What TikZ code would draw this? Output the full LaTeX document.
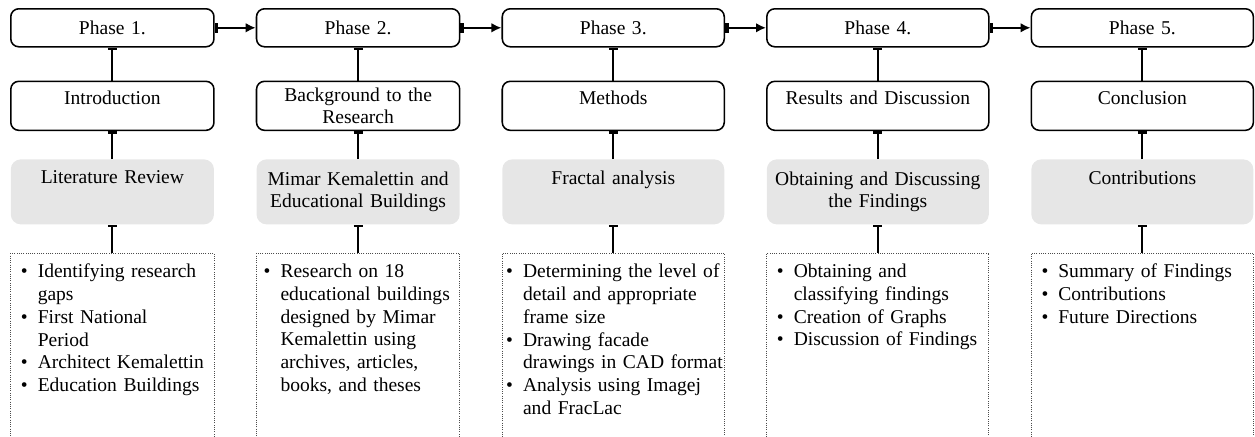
\documentclass[tikz,border=0pt]{standalone}
\usepackage{fontspec}
\setmainfont{Liberation Serif}
\usepackage{tikz}
\usetikzlibrary{positioning, arrows.meta, shapes}
\definecolor{boxgray}{HTML}{E6E6E6}
\newcommand{\boxfont}{\fontsize{13.9}{16.2}\selectfont}
\newenvironment{blist}[1]{\begin{list}{\textbullet}{\setlength{\leftmargin}{#1}%
\setlength{\rightmargin}{-0.4cm}\setlength{\labelsep}{0.25cm}\setlength{\labelwidth}{0.3cm}%
\setlength{\itemsep}{0pt}\setlength{\parsep}{0pt}\setlength{\topsep}{0pt}\setlength{\partopsep}{0pt}}}%
{\end{list}}
\newcommand{\itembox}[2][0.575cm]{\vbox to 4.6cm{\vskip 0.26cm\begin{blist}{#1}#2\end{blist}\vfill}}
\tikzstyle{pblock} = [rectangle, draw, line width=1.1pt, rounded corners=0.2cm,
text width=4.78cm, align=center, minimum width=5.08cm, minimum height=0.95cm, inner xsep=0.15cm]
\tikzstyle{lpblock} = [rectangle, draw, line width=1.1pt, rounded corners=0.2cm,
text width=5.25cm, align=center, minimum width=5.55cm, minimum height=0.95cm, inner xsep=0.15cm]
\tikzstyle{hblock} = [rectangle, draw, line width=1.1pt, rounded corners=0.2cm,
text width=4.78cm, align=center, minimum width=5.08cm, minimum height=1.225cm, inner xsep=0.15cm]
\tikzstyle{lhblock} = [rectangle, draw, line width=1.1pt, rounded corners=0.2cm,
text width=5.25cm, align=center, minimum width=5.55cm, minimum height=1.225cm, inner xsep=0.15cm]
\tikzstyle{gblock} = [rectangle, fill=boxgray, rounded corners=0.25cm,
text width=4.78cm, align=center, minimum width=5.08cm, minimum height=1.625cm, inner xsep=0.15cm]
\tikzstyle{lgblock} = [rectangle, fill=boxgray, rounded corners=0.25cm,
text width=5.25cm, align=center, minimum width=5.55cm, minimum height=1.625cm, inner xsep=0.15cm]
\tikzstyle{dblock} = [rectangle, draw=black!70, densely dotted, line width=0.6pt,
text width=4.88cm, minimum width=5.08cm, minimum height=4.625cm, inner xsep=0.1cm, inner ysep=0pt]
\tikzstyle{ldblock} = [rectangle, draw=black!70, densely dotted, line width=0.6pt,
text width=5.35cm, minimum width=5.55cm, minimum height=4.625cm, inner xsep=0.1cm, inner ysep=0pt]
\tikzstyle{hone} = [text depth=0.39cm]
\tikzstyle{gone} = [text depth=0.73cm]
\tikzstyle{harrow} = [line width=1.4pt, {Bar[width=0.26cm,line width=2.6pt]}-{Latex[length=0.25cm,width=0.24cm]}]
\tikzstyle{varrow} = [line width=1.5pt, -{Bar[width=0.22cm,line width=2pt]}]

\begin{document}
\begin{tikzpicture}
                \tikzstyle{every node}=[font=\boxfont]
                \useasboundingbox (0,0) rectangle (31.375,-10.9);
                \node (p1) [pblock, anchor=north west] at (0.25,-0.2) {Phase 1.};
                \node (p2) [pblock, right=1.025cm of p1] {Phase 2.};
                \node (p3) [lpblock, right=1.025cm of p2] {Phase 3.};
                \node (p4) [lpblock, right=1.025cm of p3] {Phase 4.};
                \node (p5) [lpblock, right=1.025cm of p4] {Phase 5.};
                \node (h1) [hblock, hone, below=0.825cm of p1] {Introduction};
                \node (h2) [hblock, below=0.825cm of p2] {Background to the\\Research};
                \node (h3) [lhblock, hone, below=0.825cm of p3] {Methods};
                \node (h4) [lhblock, hone, below=0.825cm of p4] {Results and Discussion};
                \node (h5) [lhblock, hone, below=0.825cm of p5] {Conclusion};
                \node (g1) [gblock, gone, below=0.7cm of h1] {Literature Review};
                \node (g2) [gblock, below=0.7cm of h2] {Mimar Kemalettin and\\Educational Buildings};
                \node (g3) [lgblock, gone, below=0.7cm of h3] {Fractal analysis};
                \node (g4) [lgblock, below=0.7cm of h4] {Obtaining and Discussing\\the Findings};
                \node (g5) [lgblock, gone, below=0.7cm of h5] {Contributions};
                \node (d1) [dblock, below=0.7cm of g1] {\itembox{
                                  \item Identifying research\newline gaps
                                  \item First National\newline Period
                                  \item Architect Kemalettin
                                  \item Education Buildings}};
                \node (d2) [dblock, below=0.7cm of g2] {\itembox[0.5cm]{
                                  \item Research on 18\newline educational buildings\newline designed by Mimar\newline Kemalettin using\newline archives, articles,\newline books, and theses}};
                \node (d3) [ldblock, below=0.7cm of g3] {\itembox[0.42cm]{
                                  \item Determining the level of\newline detail and appropriate\newline frame size
                                  \item Drawing facade\newline drawings in CAD format
                                  \item Analysis using Imagej\newline and FracLac}};
                \node (d4) [ldblock, below=0.7cm of g4] {\itembox{
                                  \item Obtaining and\newline classifying findings
                                  \item Creation of Graphs
                                  \item Discussion of Findings}};
                \node (d5) [ldblock, below=0.7cm of g5] {\itembox{
                                  \item Summary of Findings
                                  \item Contributions
                                  \item Future Directions}};
                \draw [harrow] (p1) -- (p2);
                \draw [harrow] (p2) -- (p3);
                \draw [harrow] (p3) -- (p4);
                \draw [harrow] (p4) -- (p5);
                \draw [varrow] (h1) -- (p1);
                \draw [varrow] (h2) -- (p2);
                \draw [varrow] (h3) -- (p3);
                \draw [varrow] (h4) -- (p4);
                \draw [varrow] (h5) -- (p5);
                \draw [varrow] (g1) -- (h1);
                \draw [varrow] (g2) -- (h2);
                \draw [varrow] (g3) -- (h3);
                \draw [varrow] (g4) -- (h4);
                \draw [varrow] (g5) -- (h5);
                \draw [varrow] (d1) -- (g1);
                \draw [varrow] (d2) -- (g2);
                \draw [varrow] (d3) -- (g3);
                \draw [varrow] (d4) -- (g4);
                \draw [varrow] (d5) -- (g5);
        \end{tikzpicture}
\end{document}
